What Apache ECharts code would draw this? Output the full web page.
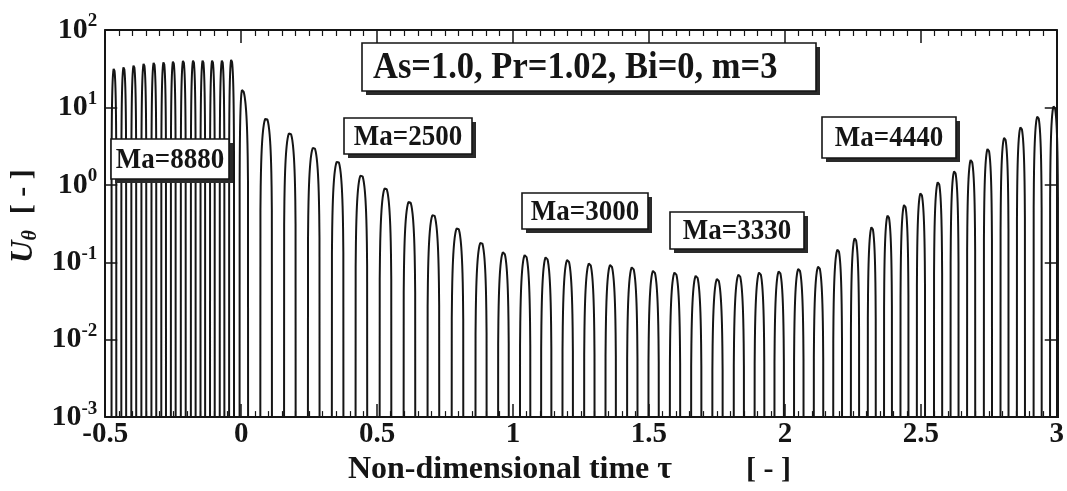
<!DOCTYPE html>
<html><head><meta charset="utf-8">
<script src="https://cdn.jsdelivr.net/npm/echarts@6/dist/echarts.min.js"></script>
<style>html,body{margin:0;padding:0;background:#fff}#c{width:1067px;height:491px}</style>
</head><body><div id="c"></div>
<script>
// ---- data ----
// peak times and peak amplitudes of U_theta, Ma=8880 regime (tau < 0)
const tauMa8880 = [-0.468, -0.432, -0.395, -0.358, -0.321, -0.285, -0.250, -0.213, -0.176, -0.141, -0.106, -0.070, -0.036];
const uMa8880   = [32, 33.6, 35.3, 37.1, 38.3, 38.9, 39.7, 40.6, 41, 41, 41, 41, 41.8];
// peak times and amplitudes after the switch (Ma=2500 -> 3000 -> 3330 -> 4440)
const tauAfter = [0.004, 0.092, 0.179, 0.267, 0.355, 0.442, 0.531, 0.619, 0.707, 0.796, 0.883,
                  0.965, 1.045, 1.122, 1.201, 1.281, 1.359, 1.439, 1.517, 1.596, 1.674, 1.752,
                  1.831, 1.907, 1.979, 2.051, 2.124,
                  2.195, 2.258, 2.320, 2.379, 2.440, 2.500, 2.564, 2.624, 2.685, 2.747, 2.808, 2.868, 2.930, 2.990];
const uAfter   = [17.1, 7.36, 4.76, 3.10, 2.05, 1.36, 0.927, 0.62, 0.42, 0.282, 0.184,
                  0.137, 0.126, 0.118, 0.109, 0.0985, 0.094, 0.0875, 0.079, 0.075, 0.068, 0.062,
                  0.0705, 0.075, 0.0776, 0.0834, 0.0893,
                  0.148, 0.207, 0.288, 0.407, 0.56, 0.79, 1.10, 1.52, 2.13, 2.96, 4.11, 5.63, 7.74, 10.5];
const xTickLabels = ['-0.5', '0', '0.5', '1', '1.5', '2', '2.5', '3'];
const yDecades = [0.001, 0.01, 0.1, 1, 10, 100];
const paramLabel = 'As=1.0, Pr=1.02, Bi=0, m=3';
const maLabels = ['Ma=8880', 'Ma=2500', 'Ma=3000', 'Ma=3330', 'Ma=4440'];
const xName = 'Non-dimensional time τ';
const unitLabel = '[ - ]';

// ---- build the oscillating trace (positive half-waves only, negative part falls off the log axis) ----
const peaksT = tauMa8880.concat(tauAfter);
const peaksU = uMa8880.concat(uAfter);
const FLOOR = 1e-7, N = 24;
const trace = [];
for (let i = 0; i < peaksT.length; i++) {
  const t = peaksT[i], A = peaksU[i];
  const gl = i > 0 ? t - peaksT[i - 1] : peaksT[1] - peaksT[0];
  const gr = i < peaksT.length - 1 ? peaksT[i + 1] - t : gl;
  const wl = gl / 4, wr = gr / 4;
  for (let k = 0; k <= N; k++) {
    const f = k / N;
    trace.push([t - wl * (1 - f), k === 0 ? FLOOR : A * Math.sin(Math.PI / 2 * f)]);
  }
  for (let k = N - 1; k >= 0; k--) {
    const f = k / N;
    trace.push([t + wr * (1 - f), k === 0 ? FLOOR : A * Math.sin(Math.PI / 2 * f)]);
  }
}

const FONT = 'Liberation Serif';
const INK = '#151515';
const chart = echarts.init(document.getElementById('c'), null, {renderer: 'canvas'});

const axisLine = {show: true, onZero: false, lineStyle: {color: INK, width: 2}};
const xTick = {show: true, inside: true, length: 13, lineStyle: {color: INK, width: 1.5}};
const xMinor = {show: true, splitNumber: 10, length: 6, lineStyle: {color: INK, width: 1.2}};
const yTick = {show: true, inside: true, length: 12, lineStyle: {color: INK, width: 1.5}};

function box(text, x, y, w, h, fs, align) {
  return {
    type: 'group', x: x, y: y, silent: true, z: 50,
    children: [
      {type: 'rect', z: 50, shape: {x: 4, y: 4, width: w, height: h}, style: {fill: '#2a2a2a'}},
      {type: 'rect', z: 51, shape: {x: 0, y: 0, width: w, height: h}, style: {fill: '#fff', stroke: INK, lineWidth: 1.6}},
      {type: 'text', z: 52, x: align === 'left' ? 11 : w / 2, y: h / 2 + 1, scaleY: 1.08,
       style: {text: text, font: 'bold ' + fs + 'px "' + FONT + '"', fill: INK,
               align: align === 'left' ? 'left' : 'center', verticalAlign: 'middle'}}
    ]
  };
}

chart.setOption({
  animation: false,
  backgroundColor: '#fff',
  grid: {left: 105, right: 9, top: 30, bottom: 73, containLabel: false},
  xAxis: [{
    type: 'value', min: -0.5, max: 3, interval: 0.5, position: 'bottom',
    axisLine: axisLine, axisTick: xTick, minorTick: xMinor, splitLine: {show: false},
    axisLabel: {color: INK, fontFamily: FONT, fontWeight: 'bold', fontSize: 29, margin: 3,
                showMinLabel: true, showMaxLabel: true,
                formatter: function (v) { return xTickLabels[Math.round((v + 0.5) / 0.5)]; }},
    name: '{a|' + xName + '}{b|' + unitLabel + '}', nameLocation: 'middle', nameGap: 30,
    nameTextStyle: {padding: [0, 23, 0, 0], rich: {
      a: {fontFamily: FONT, fontWeight: 'bold', fontSize: 32, color: INK},
      b: {fontFamily: FONT, fontWeight: 'bold', fontSize: 30, color: INK, padding: [0, 0, 0, 74]}
    }}
  }, {
    type: 'value', min: -0.5, max: 3, interval: 0.5, position: 'top',
    axisLine: axisLine, axisTick: xTick, minorTick: xMinor, splitLine: {show: false},
    axisLabel: {show: false}
  }],
  yAxis: [{
    type: 'log', logBase: 10, min: 0.001, max: 100, position: 'left',
    axisLine: axisLine, axisTick: yTick, splitLine: {show: false}, minorTick: {show: false},
    axisLabel: {margin: 8, showMinLabel: true, showMaxLabel: true,
      formatter: function (v) {
        const e = Math.round(Math.log10(v));
        return '{b|10}{s|' + e + '}';
      },
      rich: {
        b: {fontFamily: FONT, fontWeight: 'bold', fontSize: 30, color: INK, lineHeight: 36},
        s: {fontFamily: FONT, fontWeight: 'bold', fontSize: 19, color: INK, verticalAlign: 'top', lineHeight: 20}
      }},
    name: '{u|U}{th|θ}{br|' + unitLabel + '}', nameLocation: 'middle', nameRotate: 90, nameGap: 60,
    nameTextStyle: {padding: [0, 0, 0, 15], rich: {
      u: {fontFamily: FONT, fontWeight: 'bold', fontStyle: 'italic', fontSize: 31, color: INK, lineHeight: 34},
      th: {fontFamily: FONT, fontWeight: 'bold', fontStyle: 'italic', fontSize: 20, color: INK, verticalAlign: 'bottom', lineHeight: 22},
      br: {fontFamily: FONT, fontWeight: 'bold', fontSize: 30, color: INK, padding: [0, 0, 0, 16]}
    }}
  }, {
    type: 'log', logBase: 10, min: 0.001, max: 100, position: 'right',
    axisLine: axisLine, axisTick: yTick, splitLine: {show: false}, minorTick: {show: false},
    axisLabel: {show: false}
  }],
  series: [{
    type: 'line', xAxisIndex: 0, yAxisIndex: 0, data: trace, z: 2,
    showSymbol: false, symbol: 'none', clip: true, silent: true, sampling: null,
    lineStyle: {color: INK, width: 2}
  }],
  graphic: [
    box(paramLabel, 362, 43, 454, 48, 34.5, 'left'),
    box(maLabels[0], 111, 139, 118, 40, 27),
    box(maLabels[1], 344, 118, 128, 36, 27),
    box(maLabels[2], 522, 193, 126, 36, 27),
    box(maLabels[3], 670, 212, 134, 37, 27),
    box(maLabels[4], 822, 117, 134, 41, 27)
  ]
});
</script></body></html>
